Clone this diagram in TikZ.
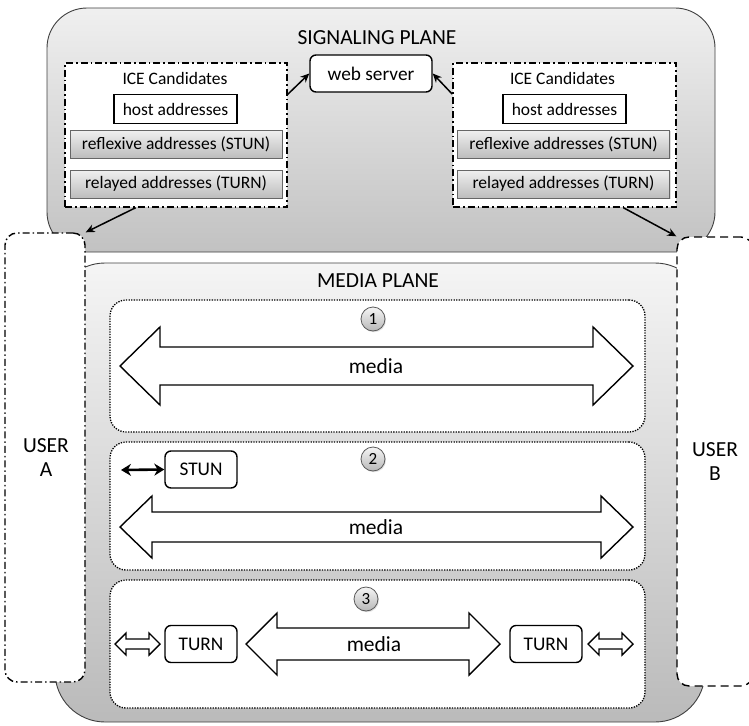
\documentclass[tikz,border=0pt]{standalone}
\usepackage{fontspec}
\setmainfont{Carlito}
\usetikzlibrary{arrows.meta,shadows}

% outline of a broad two-headed arrow: left x, right x, mid y, shaft half, head half, head length
\newcommand\wideArrow[6]{%
  \draw[bigarrow] (#1,#3) -- ({#1+#6},{#3-#5}) -- ({#1+#6},{#3-#4}) -- ({#2-#6},{#3-#4})
    -- ({#2-#6},{#3-#5}) -- (#2,#3) -- ({#2-#6},{#3+#5}) -- ({#2-#6},{#3+#4})
    -- ({#1+#6},{#3+#4}) -- ({#1+#6},{#3+#5}) -- cycle;}

\begin{document}
\begin{tikzpicture}[x=1pt,y=-1pt,
  plane/.style={draw=black!75, line width=0.9pt, rounded corners=#1, inner sep=0pt},
  userbox/.style={draw=black, fill=white, line width=1.4pt, rounded corners=12pt, inner sep=0pt},
  icebox/.style={draw=black, fill=white, line width=1.4pt,
    dash pattern=on 7pt off 3pt on 1.5pt off 3pt, inner sep=0pt},
  hostbox/.style={draw=black, fill=white, line width=1.7pt, inner sep=0pt,
    minimum width=123pt, minimum height=29pt, font=\fontsize{17.5}{20}\selectfont},
  addrbox/.style={draw=black!60, line width=0.8pt, top color=black!6, bottom color=black!26,
    inner sep=0pt, minimum width=212pt, minimum height=28pt,
    font=\fontsize{17.5}{20}\selectfont,
    drop shadow={opacity=0.25, shadow xshift=1pt, shadow yshift=-1.2pt}},
  webbox/.style={draw=black, fill=white, line width=1.4pt, rounded corners=6pt, inner sep=0pt,
    minimum width=122pt, minimum height=37pt, font=\fontsize{19.3}{22}\selectfont},
  relaybox/.style={draw=black, fill=white, line width=1.4pt, rounded corners=6pt, inner sep=0pt,
    minimum width=72pt, minimum height=37pt, font=\fontsize{19.3}{22}\selectfont},
  scenario/.style={draw=black, fill=white, line width=1.3pt, dash pattern=on 1.3pt off 1.3pt,
    rounded corners=16pt, inner sep=0pt, minimum width=535pt},
  stepnum/.style={circle, draw=black!65, line width=0.8pt, top color=black!4, bottom color=black!28,
    inner sep=0pt, minimum size=24pt, font=\fontsize{17}{20}\selectfont,
    drop shadow={opacity=0.25, shadow xshift=1pt, shadow yshift=-1.2pt}},
  title/.style={inner sep=0pt, font=\fontsize{21.5}{24}\selectfont},
  label/.style={inner sep=0pt, font=\fontsize{17.5}{20}\selectfont},
  bigarrow/.style={draw=black, fill=white, line width=1.4pt, line join=miter},
  connector/.style={-{Stealth[length=9pt,width=8pt]}, line width=1.5pt},
]
\useasboundingbox (0,0) rectangle (749,725);

% the two planes
\node[plane=40pt, minimum width=668pt, minimum height=244pt,
      top color=black!6, bottom color=black!24] (sig) at (381,130) {};
\node[plane=50pt, minimum width=650pt, minimum height=459pt,
      top color=black!4, bottom color=black!27] (med) at (380,492.5) {};
\node[title] at (377,37.5) {SIGNALING PLANE};
\node[title] at (378,281) {MEDIA PLANE};

% the two users
\node[userbox, dash pattern=on 7pt off 3pt on 1.5pt off 3pt,
      minimum width=80pt, minimum height=449pt] (userA) at (45,457.5) {};
\node[userbox, dash pattern=on 8pt off 5pt,
      minimum width=76pt, minimum height=449pt] (userB) at (715,461.5) {};
\node[title, align=center] at (46,458) {USER\\A};
\node[title, align=center] at (715,462) {USER\\B};

% candidate lists and the web server
\node[icebox, minimum width=222pt, minimum height=144pt] (iceL) at (176,135) {};
\node[icebox, minimum width=223pt, minimum height=144pt] (iceR) at (564.5,135) {};
\node[label] at (175,78) {ICE Candidates};
\node[label] at (562.5,78) {ICE Candidates};
\node[hostbox] (hostL) at (175.5,109) {host addresses};
\node[hostbox] (hostR) at (564.5,109) {host addresses};
\node[addrbox] (reflL) at (176,144) {reflexive addresses (STUN)};
\node[addrbox] (reflR) at (563.5,144) {reflexive addresses (STUN)};
\node[addrbox] (relL) at (176,184) {relayed addresses (TURN)};
\node[addrbox] (relR) at (563.5,184) {relayed addresses (TURN)};
\node[webbox] (web) at (371,73.5) {web server};

\draw[connector] (iceL.20) -- (web.west);
\draw[connector] (iceR.160) -- (web.east);
\draw[connector] (iceL.241) -- (userA.north east);
\draw[connector] (iceR.309) -- (userB.north west);

% scenario 1: direct media
\node[scenario, minimum height=132pt] (sc1) at (377.5,366) {};
\node[stepnum] (n1) at (373,319) {1};
\wideArrow{120}{633}{366}{19}{39}{40}
\node[title] (m1) at (376,366) {media};

% scenario 2: media through reflexive addresses
\node[scenario, minimum height=128pt] (sc2) at (377.5,506) {};
\node[stepnum] (n2) at (373,459) {2};
\node[relaybox] (stun) at (201,469.5) {STUN};
\coordinate (s2end) at (121,470);
\draw[{Stealth[length=10pt,width=12pt]}-{Stealth[length=10pt,width=12pt]}, line width=2.6pt]
  (s2end) -- (stun.west);
\wideArrow{120}{633}{527}{15}{31}{32}
\node[title] (m2) at (376,527) {media};

% scenario 3: media relayed by TURN
\node[scenario, minimum height=128pt] (sc3) at (377.5,644) {};
\node[stepnum] (n3) at (366,599) {3};
\node[relaybox] (turnL) at (201,644) {TURN};
\node[relaybox] (turnR) at (546,644) {TURN};
\wideArrow{115}{160}{644}{5}{11}{11}
\wideArrow{588}{633}{644}{5}{11}{11}
\wideArrow{246}{500}{644}{16}{31}{31}
\node[title] (m3) at (374,644) {media};
\end{tikzpicture}
\end{document}
